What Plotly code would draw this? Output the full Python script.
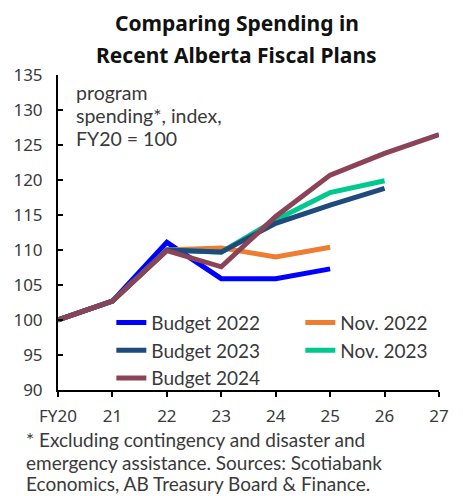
import plotly.graph_objects as go

years = ["FY20", "21", "22", "23", "24", "25", "26", "27"]

budget_2022 = [100, 102.7, 111.1, 105.9, 105.9, 107.3]
nov_2022 = [100, 102.7, 110.0, 110.3, 109.0, 110.4]
budget_2023 = [100, 102.7, 110.0, 109.7, 113.8, 116.4, 118.8]
nov_2023 = [100, 102.7, 110.0, 109.7, 114.3, 118.2, 119.9]
budget_2024 = [100, 102.7, 109.9, 107.6, 114.8, 120.7, 123.8, 126.5]

y_ticks = [90, 95, 100, 105, 110, 115, 120, 125, 130, 135]

title_lines = ["Comparing Spending in", "Recent Alberta Fiscal Plans"]
axis_note_lines = ["program", "spending*, index,", "FY20 = 100"]
footnote_lines = [
    "* Excluding contingency and disaster and",
    "emergency assistance. Sources: Scotiabank",
    "Economics, AB Treasury Board &amp; Finance.",
]

FONT = "Noto Sans"
FONT2 = "Lato"
TXT = "#3a3a3a"

# name, values, colour, legend id, rank
series = [
    ("Budget 2022", budget_2022, "#0000FF", "legend", 1),
    ("Nov. 2022", nov_2022, "#ED7D31", "legend2", 1),
    ("Nov. 2023", nov_2023, "#00C98F", "legend2", 2),
    ("Budget 2023", budget_2023, "#1F4A7C", "legend", 2),
    ("Budget 2024", budget_2024, "#8B4457", "legend", 3),
]

fig = go.Figure()
for name, vals, color, leg, rank in series:
    fig.add_trace(go.Scatter(
        x=years[:len(vals)], y=vals, name=name, mode="lines",
        line=dict(color=color, width=5), legend=leg, legendrank=rank,
    ))

legend_style = dict(
    orientation="v", xanchor="left", yanchor="top",
    bgcolor="rgba(0,0,0,0)", font=dict(family=FONT2, size=19, color=TXT),
    tracegroupgap=0, itemwidth=30,
)

fig.update_layout(
    width=463, height=496,
    margin=dict(l=58, r=23.5, t=75, b=106),
    paper_bgcolor="white", plot_bgcolor="white",
    font=dict(family=FONT, size=17, color=TXT),
    showlegend=True,
    legend=dict(x=0.14, y=0.274, **legend_style),
    legend2=dict(x=0.636, y=0.274, **legend_style),
)

fig.update_xaxes(
    type="category", categoryorder="array", categoryarray=years,
    range=[0, 7], showgrid=False, zeroline=False,
    showline=True, linecolor="black", linewidth=2,
    ticks="outside", ticklen=5, tickwidth=2, tickcolor="black",
    ticklabelstandoff=5, tickfont=dict(size=17, color=TXT),
)
fig.update_yaxes(
    range=[90, 135], tickvals=y_ticks, showgrid=False, zeroline=False,
    showline=True, linecolor="black", linewidth=2,
    ticks="inside", ticklen=5, tickwidth=2, tickcolor="black",
    ticklabelstandoff=10, tickfont=dict(size=17, color=TXT),
)


def py(pix):
    return (390 - pix) / 315


def px(pix):
    return (pix - 58) / 381.5


for line, ypix in zip(title_lines, [23, 55]):
    fig.add_annotation(
        text=f"<b>{line}</b>", xref="paper", yref="paper",
        x=px(237), y=py(ypix), xanchor="center", yanchor="middle",
        showarrow=False, font=dict(family=FONT, size=21, color="#111"),
    )

for line, ypix in zip(axis_note_lines, [92, 115, 138]):
    fig.add_annotation(
        text=line, xref="paper", yref="paper",
        x=px(74), y=py(ypix), xanchor="left", yanchor="middle",
        align="left", showarrow=False, font=dict(family=FONT2, size=19.5, color=TXT),
    )

for line, ypix in zip(footnote_lines, [439.5, 462, 483.5]):
    fig.add_annotation(
        text=line, xref="paper", yref="paper",
        x=px(24), y=py(ypix), xanchor="left", yanchor="middle",
        align="left", showarrow=False, font=dict(family=FONT2, size=19, color=TXT),
    )

fig.write_html("out.html")
